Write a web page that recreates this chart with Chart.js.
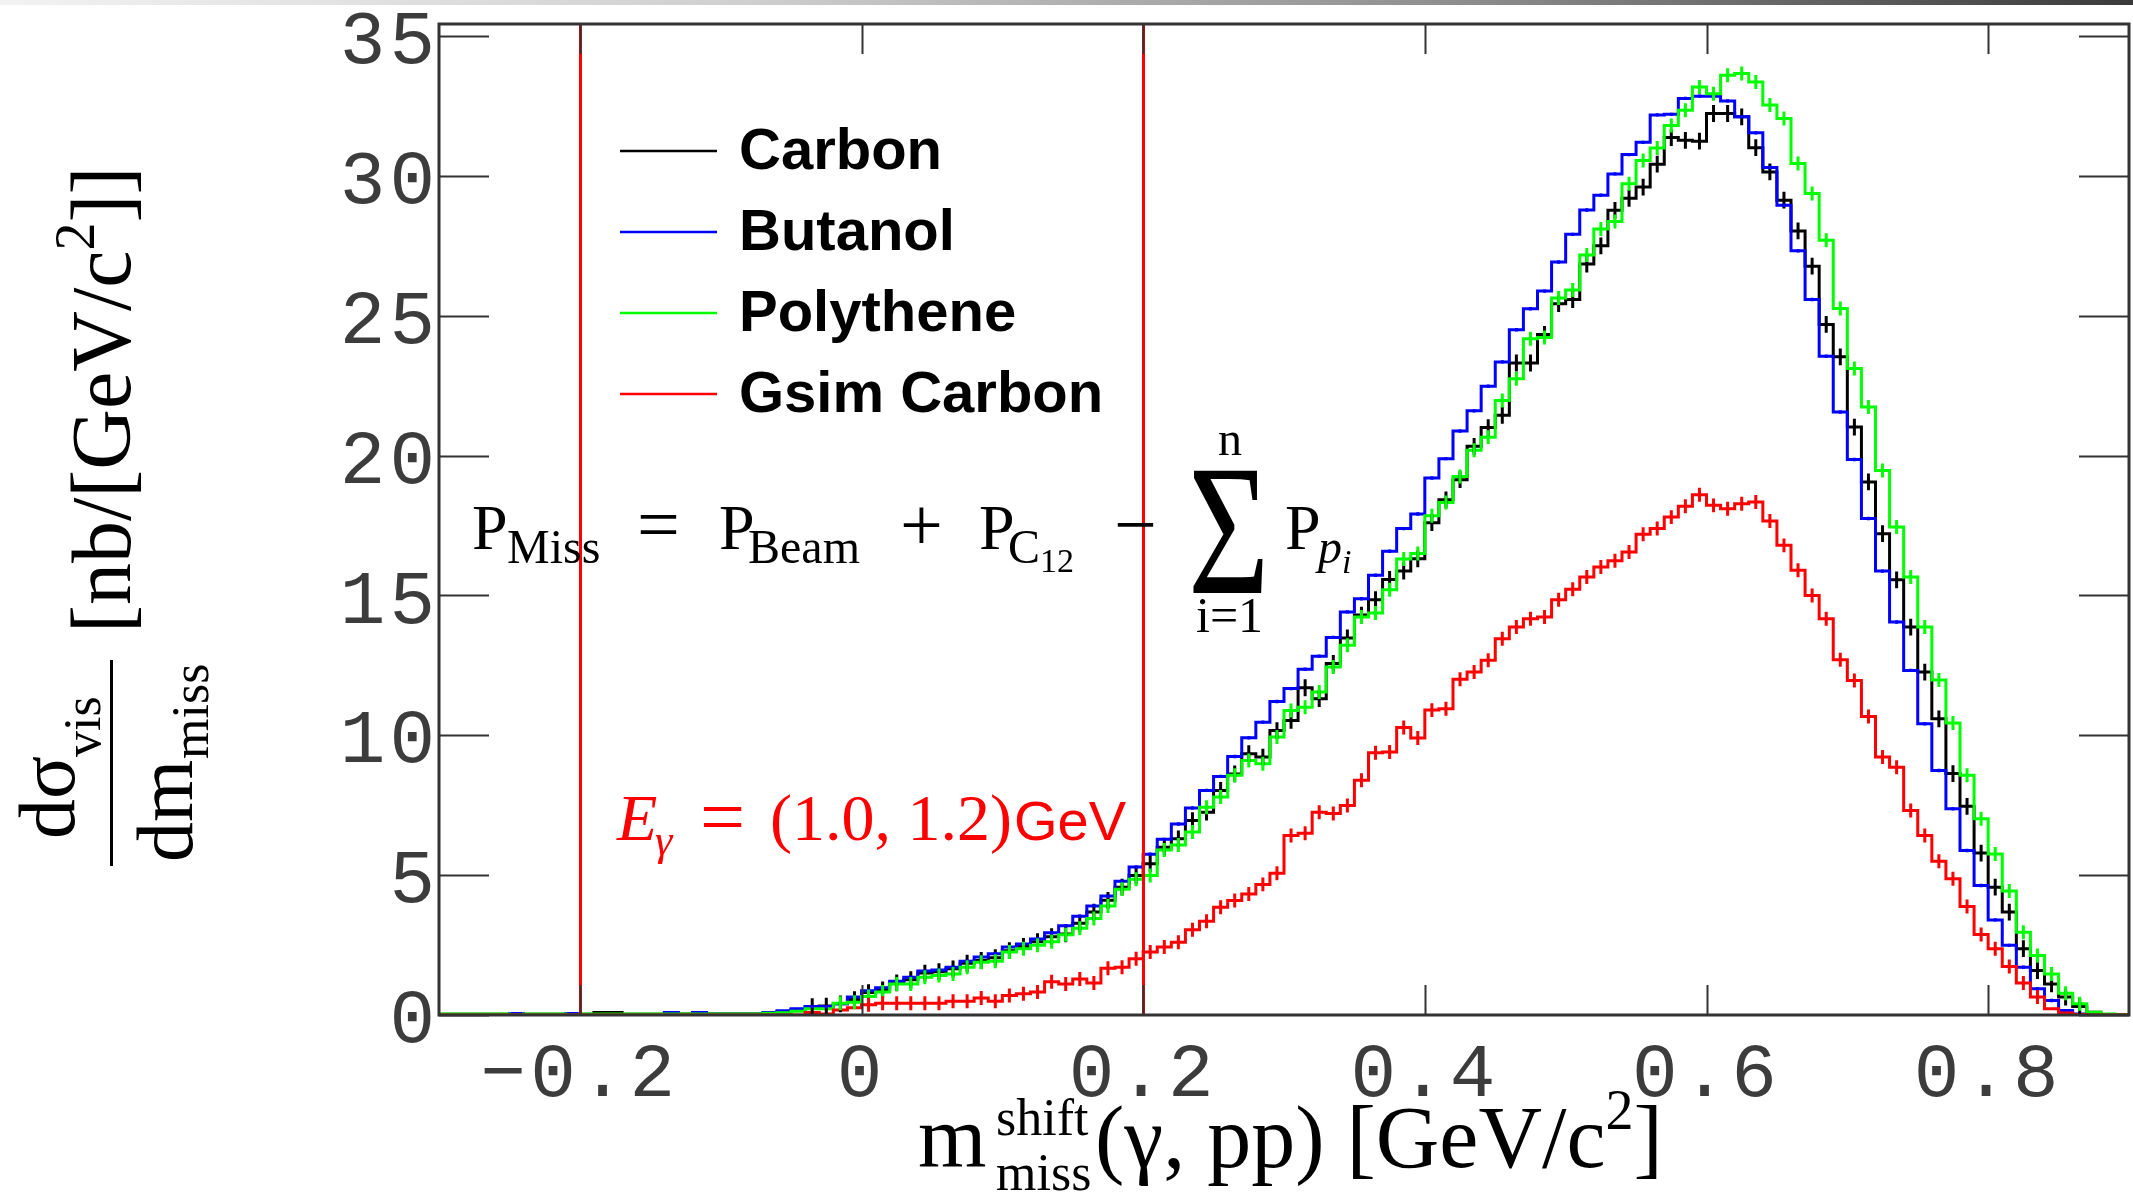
<!DOCTYPE html>
<html>
<head>
<meta charset="utf-8">
<title>Missing mass spectra</title>
<script src="https://cdn.jsdelivr.net/npm/chart.js@4.4.1/dist/chart.umd.min.js"></script>
<style>
  html, body { margin: 0; padding: 0; background: #fff; }
  #page { position: relative; width: 2133px; height: 1196px; overflow: hidden; }
  #chart { position: absolute; left: 0; top: 0; }
  .topbar { position: absolute; left: 0; top: 0; width: 2133px; height: 5px;
    background: linear-gradient(to right, #f2f2f2, #cfcfcf 35%, #8a8a8a 70%, #3a3a3a); }
  .t { position: absolute; white-space: nowrap; line-height: 1; color: #000;
    font-family: "Liberation Serif", "DejaVu Serif", serif; }
  .it { font-style: italic; }
  .red { color: #ff0000; }
  .sans { font-family: "Liberation Sans", Arial, sans-serif; }
  #ytitle { position: absolute; left: 0; top: 870px; width: 720px; height: 220px;
    transform: rotate(-90deg); transform-origin: 0 0; }
  .sigma { transform: scaleY(1.33); transform-origin: 0 0; }
</style>
</head>
<body>
<div id="page">
  <canvas id="chart" width="2133" height="1196"></canvas>
  <div class="topbar"></div>

  <!-- missing momentum formula -->
  <span class="t" style="left:472px;top:496px;font-size:64px">P</span>
  <span class="t" style="left:507px;top:523px;font-size:48px">Miss</span>
  <span class="t" style="left:637px;top:486px;font-size:76px">=</span>
  <span class="t" style="left:719px;top:496px;font-size:64px">P</span>
  <span class="t" style="left:748px;top:523px;font-size:48px">Beam</span>
  <span class="t" style="left:900px;top:486px;font-size:76px">+</span>
  <span class="t" style="left:979px;top:496px;font-size:64px">P</span>
  <span class="t" style="left:1008px;top:523px;font-size:48px">C</span>
  <span class="t" style="left:1040px;top:544px;font-size:34px">12</span>
  <span class="t" style="left:1114px;top:486px;font-size:76px">−</span>
  <span class="t sigma" style="left:1188px;top:437px;font-size:140px">Σ</span>
  <span class="t" style="left:1218px;top:415px;font-size:48px">n</span>
  <span class="t" style="left:1196px;top:590px;font-size:50px">i=1</span>
  <span class="t" style="left:1285px;top:496px;font-size:64px">P</span>
  <span class="t it" style="left:1318px;top:523px;font-size:48px">p</span>
  <span class="t it" style="left:1342px;top:545px;font-size:34px">i</span>

  <!-- beam energy range -->
  <span class="t it red" style="left:617px;top:785px;font-size:66px">E</span>
  <span class="t it red" style="left:655px;top:819px;font-size:44px">γ</span>
  <span class="t red" style="left:700px;top:777px;font-size:80px">=</span>
  <span class="t red" style="left:770px;top:785px;font-size:66px">(1.0, 1.2)</span>
  <span class="t red sans" style="left:1014px;top:793px;font-size:56px">GeV</span>

  <!-- x axis title -->
  <span class="t" style="left:918px;top:1094px;font-size:88px">m</span>
  <span class="t" style="left:996px;top:1092px;font-size:52px">shift</span>
  <span class="t" style="left:996px;top:1147px;font-size:52px">miss</span>
  <span class="t" style="left:1095px;top:1094px;font-size:88px">(γ, pp) [GeV/c<span style="font-size:56px;position:relative;top:-38px">2</span>]</span>

  <!-- y axis title -->
  <div id="ytitle">
    <span class="t" style="left:31px;top:7px;font-size:80px">dσ</span>
    <span class="t" style="left:113px;top:57px;font-size:52px">vis</span>
    <div style="position:absolute;left:4px;top:110px;width:206px;height:3px;background:#000"></div>
    <span class="t" style="left:8px;top:125px;font-size:80px">dm</span>
    <span class="t" style="left:111px;top:165px;font-size:52px">miss</span>
    <span class="t" style="left:237px;top:60px;font-size:84px">[nb/[GeV/c<span style="font-size:56px;position:relative;top:-36px">2</span>]]</span>
  </div>
</div>

<script>
// histogram binning, GeV/c^2
const binLow = -0.3;
const binWidth = 0.01;
const xTickValues = [-0.2, 0, 0.2, 0.4, 0.6, 0.8];
const yTickValues = [0, 5, 10, 15, 20, 25, 30, 35];
const cutValues = [-0.2, 0.2];

const carbon = [
  0.03, 0.03, 0.03, 0.03, 0.03, 0.03, 0.03, 0.03, 0.03, 0.03,
  0.03, 0.09, 0.09, 0.03, 0.03, 0.03, 0.04, 0.04, 0.04, 0.04,
  0.04, 0.04, 0.04, 0.06, 0.12, 0.2, 0.3, 0.32, 0.4, 0.55,
  0.8, 0.9, 1.15, 1.26, 1.5, 1.55, 1.65, 1.85, 1.95, 2.05,
  2.3, 2.45, 2.62, 2.8, 2.9, 3.28, 3.68, 4.1, 4.57, 4.99,
  5.41, 6.0, 6.3, 6.95, 7.25, 8.03, 8.62, 9.34, 9.22, 10.17,
  10.53, 11.7, 11.31, 12.57, 13.48, 14.3, 14.85, 15.57, 15.87, 16.31,
  17.6, 18.42, 19.14, 20.33, 21.0, 21.44, 23.31, 23.31, 24.33, 25.43,
  25.58, 26.85, 27.5, 28.77, 29.2, 29.6, 30.42, 31.37, 31.27, 31.24,
  32.23, 32.23, 32.11, 31.01, 30.14, 29.13, 28.03, 26.77, 24.69, 23.53,
  21.02, 19.06, 17.21, 15.56, 13.87, 12.26, 10.59, 8.63, 7.46, 5.79,
  4.57, 3.68, 2.37, 1.59, 1.11, 0.64, 0.3, 0.1, 0.02, 0
];
const butanol = [
  0.02, 0.02, 0.02, 0.02, 0.02, 0.05, 0.02, 0.02, 0.02, 0.05,
  0.02, 0.02, 0.02, 0.02, 0.02, 0.02, 0.09, 0.01, 0.09, 0.03,
  0.03, 0.03, 0.03, 0.09, 0.15, 0.22, 0.3, 0.3, 0.4, 0.64,
  0.87, 0.97, 1.21, 1.35, 1.57, 1.61, 1.71, 1.92, 2.07, 2.19,
  2.43, 2.54, 2.72, 2.94, 3.19, 3.53, 3.9, 4.25, 4.78, 5.29,
  5.75, 6.28, 6.83, 7.4, 8.03, 8.53, 9.24, 9.91, 10.47, 11.21,
  11.67, 12.36, 12.83, 13.5, 14.41, 14.88, 15.72, 16.58, 17.39, 17.91,
  19.2, 19.89, 20.88, 21.6, 22.48, 23.35, 24.5, 25.25, 25.88, 26.92,
  27.91, 28.78, 29.31, 30.07, 30.76, 31.2, 32.18, 32.2, 32.77, 32.85,
  32.85, 32.68, 32.11, 31.54, 30.3, 28.95, 27.32, 25.58, 23.55, 21.56,
  19.86, 17.75, 15.87, 14.05, 12.32, 10.41, 8.74, 7.37, 5.88, 4.63,
  3.4, 2.49, 1.71, 0.94, 0.52, 0.16, 0.04, 0.01, 0, 0
];
const polythene = [
  0.04, 0.04, 0.04, 0.04, 0.04, 0, 0.04, 0.04, 0.04, 0,
  0.04, 0.04, 0.04, 0.04, 0.04, 0.04, 0.04, 0.04, 0.04, 0.04,
  0.04, 0.04, 0.04, 0.06, 0.08, 0.13, 0.22, 0.22, 0.42, 0.46,
  0.66, 0.82, 1.11, 1.11, 1.35, 1.41, 1.47, 1.71, 1.89, 1.92,
  2.25, 2.37, 2.49, 2.62, 2.87, 3.1, 3.45, 3.9, 4.5, 4.85,
  4.99, 5.9, 6.08, 6.54, 7.43, 7.79, 8.57, 9.1, 8.98, 9.94,
  10.89, 11.0, 11.55, 12.44, 13.22, 14.23, 14.37, 15.2, 16.3, 16.5,
  17.85, 18.32, 19.25, 20.19, 20.66, 21.97, 22.75, 24.18, 24.22, 25.63,
  25.92, 27.17, 28.1, 28.37, 29.72, 30.55, 31.0, 31.8, 32.35, 33.18,
  32.94, 33.6, 33.66, 33.36, 32.53, 32.05, 30.44, 29.37, 27.7, 25.26,
  23.11, 21.74, 19.47, 17.45, 15.66, 13.87, 11.98, 10.44, 8.57, 7.02,
  5.76, 4.43, 2.96, 2.13, 1.47, 0.78, 0.4, 0.1, 0.04, 0.01
];
const gsimCarbon = [
  0, 0, 0, 0, 0, 0, 0, 0, 0, 0,
  0, 0, 0, 0, 0, 0, 0, 0, 0, 0,
  0, 0, 0, 0, 0, 0, 0.09, 0.04, 0.18, 0.26,
  0.37, 0.42, 0.42, 0.42, 0.42, 0.42, 0.49, 0.49, 0.61, 0.49,
  0.7, 0.76, 0.82, 1.19, 1.11, 1.29, 1.14, 1.67, 1.71, 2.01,
  2.25, 2.43, 2.6, 3.05, 3.35, 3.85, 4.09, 4.33, 4.67, 5.07,
  6.42, 6.5, 7.25, 7.2, 7.49, 8.39, 9.38, 9.4, 10.28, 9.9,
  10.9, 10.95, 12.0, 12.26, 12.68, 13.45, 13.87, 14.17, 14.23, 14.85,
  15.22, 15.66, 16.02, 16.24, 16.55, 17.19, 17.39, 17.8, 18.19, 18.6,
  18.22, 18.1, 18.28, 18.34, 17.66, 16.79, 15.9, 15.0, 14.17, 12.7,
  11.96, 10.67, 9.22, 8.86, 7.31, 6.42, 5.5, 4.87, 3.88, 2.88,
  2.37, 1.73, 1.14, 0.64, 0.22, 0.07, 0.02, 0, 0, 0
];

const seriesNames = ['Carbon', 'Butanol', 'Polythene', 'Gsim Carbon'];
const seriesValues = [carbon, butanol, polythene, gsimCarbon];
const seriesErrors = [0.3, 0.06, 0.25, 0.25];
const seriesColors = ['#000000', '#0000ff', '#00ff00', '#ff0000'];

function binEdge(i) {
  return Math.round((binLow + i * binWidth) * 1000) / 1000;
}

// left edge of every bin, plus the closing edge, for a stepped line
function toSteps(values) {
  const pts = values.map((v, i) => ({ x: binEdge(i), y: v }));
  pts.push({ x: binEdge(values.length), y: values[values.length - 1] });
  return pts;
}

const tickFont = { family: '"Liberation Mono", "DejaVu Sans Mono", monospace', size: 76 };

const letterSpacing = {
  id: 'letterSpacing',
  beforeDraw(chart) { chart.ctx.letterSpacing = '4px'; },
  beforeDatasetsDraw(chart) { chart.ctx.letterSpacing = '0px'; }
};

const errorBars = {
  id: 'errorBars',
  afterDatasetsDraw(chart) {
    const { ctx, chartArea: a, scales: { x, y } } = chart;
    ctx.save();
    ctx.beginPath();
    ctx.rect(a.left, a.top, a.width, a.height);
    ctx.clip();
    ctx.lineWidth = 3;
    seriesValues.forEach((vals, k) => {
      const err = seriesErrors[k];
      ctx.strokeStyle = seriesColors[k];
      ctx.beginPath();
      vals.forEach((v, i) => {
        if (v < 0.3) return;
        const px = x.getPixelForValue(binLow + (i + 0.5) * binWidth);
        ctx.moveTo(px, y.getPixelForValue(v - err));
        ctx.lineTo(px, y.getPixelForValue(v + err));
      });
      ctx.stroke();
    });
    ctx.restore();
  }
};

// cut lines, frame and inward ticks on all four sides
const frame = {
  id: 'frame',
  afterDatasetsDraw(chart) {
    const { ctx, chartArea: a, scales: { x, y } } = chart;
    ctx.save();
    ctx.strokeStyle = '#ff0000';
    ctx.lineWidth = 3;
    cutValues.forEach(v => {
      const px = Math.round(x.getPixelForValue(v)) + 0.5;
      ctx.beginPath();
      ctx.moveTo(px, a.bottom);
      ctx.lineTo(px, a.top);
      ctx.stroke();
    });

    ctx.strokeStyle = '#333';
    ctx.lineWidth = 2;
    ctx.beginPath();
    xTickValues.forEach(v => {
      const px = Math.round(x.getPixelForValue(v)) + 0.5;
      ctx.moveTo(px, a.bottom); ctx.lineTo(px, a.bottom - 30);
      ctx.moveTo(px, a.top); ctx.lineTo(px, a.top + 30);
    });
    yTickValues.forEach(v => {
      const py = Math.round(y.getPixelForValue(v)) + 0.5;
      ctx.moveTo(a.left, py); ctx.lineTo(a.left + 50, py);
      ctx.moveTo(a.right, py); ctx.lineTo(a.right - 50, py);
    });
    ctx.stroke();

    ctx.lineWidth = 3;
    ctx.strokeRect(a.left, a.top, a.width, a.height);
    ctx.restore();
  }
};

const legendBox = {
  id: 'legendBox',
  afterDraw(chart) {
    const ctx = chart.ctx;
    ctx.save();
    ctx.font = 'bold 58px "Liberation Sans", Arial, sans-serif';
    ctx.textBaseline = 'alphabetic';
    chart.data.datasets.forEach((ds, r) => {
      const yy = 151 + r * 81;
      ctx.strokeStyle = ds.borderColor;
      ctx.lineWidth = 2.5;
      ctx.beginPath();
      ctx.moveTo(620, yy);
      ctx.lineTo(717, yy);
      ctx.stroke();
      ctx.fillStyle = '#000';
      ctx.fillText(ds.label, 739, yy + 18);
    });
    ctx.restore();
  }
};

const datasets = seriesNames.map((name, k) => ({
  label: name,
  data: toSteps(seriesValues[k]),
  borderColor: seriesColors[k],
  borderWidth: 3,
  pointRadius: 0,
  fill: false,
  tension: 0,
  stepped: true,
  order: 3 - k
}));

new Chart(document.getElementById('chart').getContext('2d'), {
  type: 'line',
  data: { datasets },
  options: {
    responsive: false,
    animation: false,
    devicePixelRatio: 1,
    layout: { padding: { top: 24, right: 4, left: 0, bottom: 0 } },
    plugins: { legend: { display: false }, tooltip: { enabled: false } },
    scales: {
      x: {
        type: 'linear',
        min: -0.3,
        max: 0.9,
        grid: { display: false, drawTicks: false },
        border: { display: false },
        afterBuildTicks(scale) { scale.ticks = xTickValues.map(v => ({ value: v })); },
        afterFit(scale) {
          scale.height = 181;
          scale.paddingLeft = 0; scale.paddingRight = 0;
        },
        ticks: {
          font: tickFont,
          color: '#3c3c3c',
          padding: 15,
          maxRotation: 0,
          autoSkip: false,
          callback: v => v === 0 ? '0' : (v < 0 ? '\u2212' + Math.abs(v).toFixed(1) : v.toFixed(1))
        }
      },
      y: {
        min: 0,
        max: 35.43,
        grid: { display: false, drawTicks: false },
        border: { display: false },
        afterBuildTicks(scale) { scale.ticks = yTickValues.map(v => ({ value: v })); },
        afterFit(scale) {
          scale.width = 439;
          scale.paddingTop = 0; scale.paddingBottom = 0;
        },
        ticks: {
          font: tickFont,
          color: '#3c3c3c',
          padding: 0,
          labelOffset: 7,
          autoSkip: false,
          callback: v => String(v)
        }
      }
    }
  },
  plugins: [letterSpacing, errorBars, frame, legendBox]
});
</script>
</body>
</html>
